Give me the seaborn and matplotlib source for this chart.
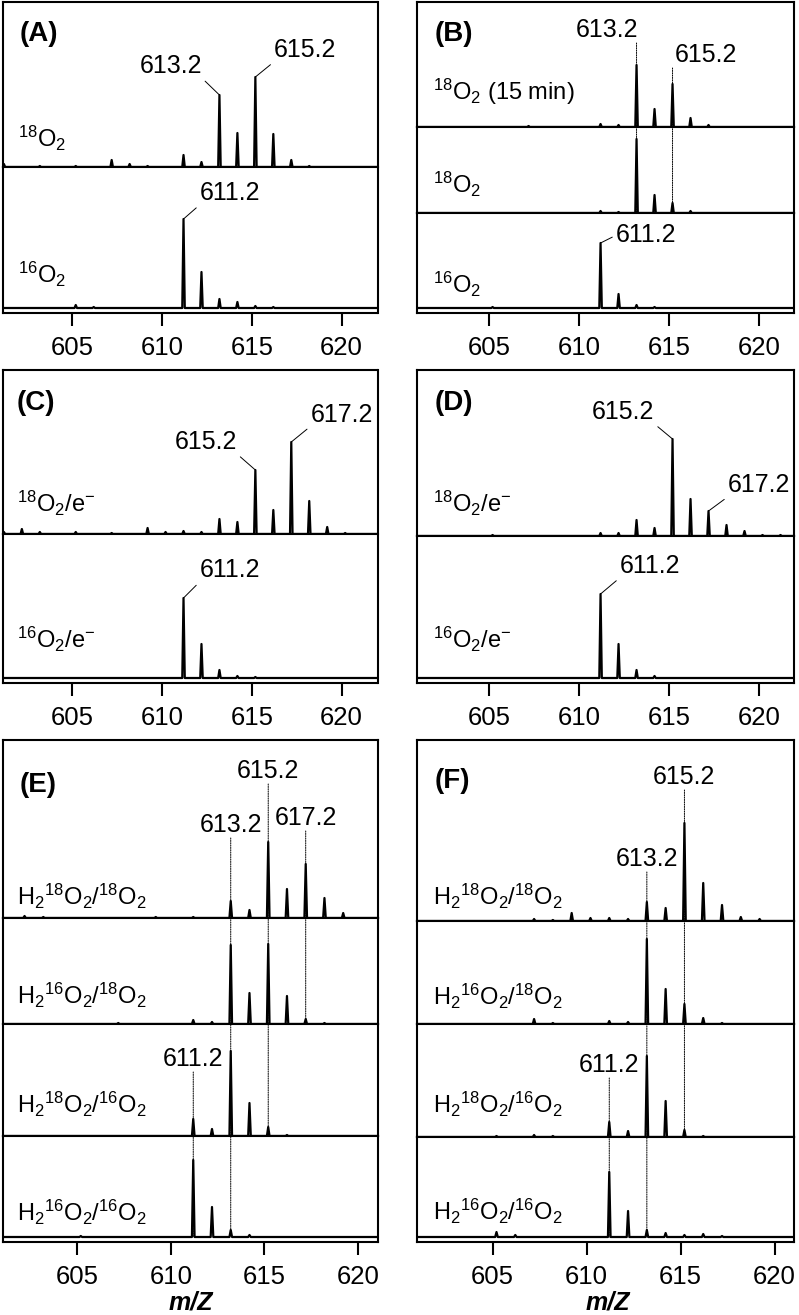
import numpy as np
import pandas as pd
import seaborn as sns
import matplotlib.pyplot as plt
from matplotlib.patches import ConnectionPatch

# peak positions (m/z) and heights (arbitrary units)
# (A)
a_18_mz = [601.2, 603.2, 605.2, 607.2, 608.2, 609.2, 611.2, 612.2, 613.2, 614.2, 615.2, 616.2, 617.2, 618.2]
a_18_int = [3, 1, 1, 7, 3, 1, 12, 5, 72, 34, 90, 33, 7, 1]
a_16_mz = [605.2, 606.2, 611.2, 612.2, 613.2, 614.2, 615.2, 616.2]
a_16_int = [3, 1, 89, 36, 9, 6, 2, 1]
# (B)
b_18t_mz = [607.2, 611.2, 612.2, 613.2, 614.2, 615.2, 616.2, 617.2]
b_18t_int = [1, 3, 2, 62, 18, 43, 9, 2]
b_18_mz = [611.2, 612.2, 613.2, 614.2, 615.2, 616.2]
b_18_int = [2, 1, 74, 18, 10, 2]
b_16_mz = [605.2, 611.2, 612.2, 613.2, 614.2]
b_16_int = [1, 65, 14, 3, 1]
# (C)
c_18_mz = [601.2, 602.2, 603.2, 605.2, 607.2, 609.2, 610.2, 611.2, 612.2,
           613.2, 614.2, 615.2, 616.2, 617.2, 618.2, 619.2, 620.2]
c_18_int = [2, 5, 2, 2, 1, 6, 2, 3, 2, 15, 12, 64, 24, 92, 33, 7, 1]
c_16_mz = [611.2, 612.2, 613.2, 614.2, 615.2]
c_16_int = [80, 34, 8, 2, 1]
# (D)
d_18_mz = [605.2, 611.2, 612.2, 613.2, 614.2, 615.2, 616.2, 617.2, 618.2, 619.2, 620.2, 621.2]
d_18_int = [1, 3, 3, 16, 8, 97, 37, 25, 11, 5, 1, 1]
d_16_mz = [611.2, 612.2, 613.2, 614.2]
d_16_int = [84, 34, 8, 2]
# (E)
e_1818_mz = [602.2, 603.2, 609.2, 611.2, 613.2, 614.2, 615.2, 616.2, 617.2, 618.2, 619.2]
e_1818_int = [2, 1, 1, 1, 17, 8, 76, 29, 54, 20, 5]
e_1618_mz = [607.2, 611.2, 612.2, 613.2, 614.2, 615.2, 616.2, 617.2, 618.2]
e_1618_int = [1, 4, 2, 79, 31, 80, 28, 5, 1]
e_1816_mz = [611.2, 612.2, 613.2, 614.2, 615.2, 616.2]
e_1816_int = [17, 7, 85, 33, 9, 1]
e_1616_mz = [605.2, 611.2, 612.2, 613.2, 614.2]
e_1616_int = [1, 77, 30, 7, 2]
# (F)
f_1818_mz = [607.2, 608.2, 609.2, 610.2, 611.2, 612.2, 613.2, 614.2, 615.2, 616.2, 617.2, 618.2, 619.2]
f_1818_int = [2, 1, 8, 3, 3, 2, 19, 13, 98, 38, 16, 4, 2]
f_1618_mz = [607.2, 608.2, 611.2, 612.2, 613.2, 614.2, 615.2, 616.2, 617.2]
f_1618_int = [5, 1, 3, 2, 85, 35, 20, 6, 1]
f_1816_mz = [605.2, 607.2, 608.2, 611.2, 612.2, 613.2, 614.2, 615.2, 616.2]
f_1816_int = [1, 2, 1, 15, 6, 81, 36, 7, 1]
f_1616_mz = [605.2, 606.2, 611.2, 612.2, 613.2, 614.2, 615.2, 616.2, 617.2]
f_1616_int = [5, 2, 65, 26, 7, 4, 2, 3, 1]

x_ticks = [605, 610, 615, 620]

sns.set_theme(style='white')
plt.rcParams['font.family'] = ['Liberation Sans', 'DejaVu Sans']
plt.rcParams.update({
    'mathtext.fontset': 'custom',
    'mathtext.rm': 'Liberation Sans',
    'mathtext.it': 'Liberation Sans:italic',
    'mathtext.bf': 'Liberation Sans:bold',
    'mathtext.default': 'regular',
    'text.color': 'black',
})

W, H = 799, 1315
fig = plt.figure(figsize=(W / 100, H / 100), dpi=100)
FS = 18       # peak labels
LFS = 17      # trace labels


def fx(px):
    return px / W


def fy(py):
    return 1 - py / H


def trace(mz, inten, lo, hi, w=0.07):
    xs, ys = [lo], [0]
    for m, h in sorted(zip(mz, inten)):
        xs += [m - w, m, m + w]
        ys += [0, h, 0]
    xs.append(hi)
    ys.append(0)
    return pd.DataFrame({'mz': xs, 'intensity': ys})


def make_panel(x0, x1, y0, y1, heights, spectra, xlim):
    gs = fig.add_gridspec(len(heights), 1, left=fx(x0), right=fx(x1), top=fy(y0),
                          bottom=fy(y1), hspace=0, height_ratios=heights)
    axes = []
    for i, (h, (mz, inten)) in enumerate(zip(heights, spectra)):
        ax = fig.add_subplot(gs[i])
        sns.lineplot(data=trace(mz, inten, *xlim), x='mz', y='intensity', ax=ax,
                     color='black', lw=1.6, estimator=None, sort=False)
        ax.set_xlim(xlim)
        last = i == len(heights) - 1
        ax.set_ylim((-5, h - 5) if last else (0, h))
        ax.set_yticks([])
        ax.set_xlabel('')
        ax.set_ylabel('')
        for s in ax.spines.values():
            s.set_linewidth(1.5)
            s.set_color('black')
        if last:
            ax.set_xticks(x_ticks)
            ax.tick_params(axis='x', bottom=True, direction='out', length=9.5, width=1.5,
                           pad=7, labelsize=18.5, colors='black')
        else:
            ax.set_xticks([])
        axes.append(ax)
    return axes


def leader(ax, mz, inten, peak, dx, dy, va='bottom'):
    # label with a thin leader line to the peak top; dx, dy in pixels
    h = inten[mz.index(peak)]
    ha = 'left' if dx > 0 else 'right'
    rel = (0 if dx > 0 else 1, 0 if va == 'bottom' else 0.5)
    ax.annotate(f'{peak:.1f}', xy=(peak, h), xytext=(dx * 0.72, dy * 0.72),
                textcoords='offset points', ha=ha, va=va, fontsize=FS, annotation_clip=False,
                arrowprops=dict(arrowstyle='-', color='black', lw=0.7, shrinkA=0,
                                shrinkB=0.5, relpos=rel))


def dotted(axes, i0, i1, peak, y_text, ha='center', tx=None):
    ax = axes[i0]
    ax.text(peak if tx is None else tx, y_text, f'{peak:.1f}', ha=ha, va='bottom', fontsize=FS)
    con = ConnectionPatch(xyA=(peak, y_text - 1), coordsA='data', axesA=ax,
                          xyB=(peak, 0), coordsB='data', axesB=axes[i1],
                          ls=(0, (1.2, 1.2)), lw=0.7, color='black')
    fig.add_artist(con)


# (A)
axA = make_panel(3, 377.5, 2, 313, [165, 146],
                 [(a_18_mz, a_18_int), (a_16_mz, a_16_int)], (601.15, 622.0))
leader(axA[0], a_18_mz, a_18_int, 613.2, -17.6, 17)
leader(axA[0], a_18_mz, a_18_int, 615.2, 18.4, 15)
leader(axA[1], a_16_mz, a_16_int, 611.2, 16, 14)

# (B)
axB = make_panel(417, 794, 2, 313, [125, 86, 100],
                 [(b_18t_mz, b_18t_int), (b_18_mz, b_18_int), (b_16_mz, b_16_int)],
                 (601.0, 621.95))
dotted(axB, 0, 1, 613.2, 85, ha='right', tx=613.28)
dotted(axB, 0, 1, 615.2, 60, ha='left', tx=615.32)
leader(axB[2], b_16_mz, b_16_int, 611.2, 15, 7.5, va='center')

# (C)
axC = make_panel(3, 377.5, 370, 683, [164, 149],
                 [(c_18_mz, c_18_int), (c_16_mz, c_16_int)], (601.15, 622.0))
leader(axC[0], c_18_mz, c_18_int, 615.2, -18.3, 16)
leader(axC[0], c_18_mz, c_18_int, 617.2, 19, 15.5)
leader(axC[1], c_16_mz, c_16_int, 611.2, 16, 16)

# (D)
axD = make_panel(417, 794, 370, 683, [166, 147],
                 [(d_18_mz, d_18_int), (d_16_mz, d_16_int)], (601.0, 621.95))
leader(axD[0], d_18_mz, d_18_int, 615.2, -18, 15)
leader(axD[0], d_18_mz, d_18_int, 617.2, 19, 14)
leader(axD[1], d_16_mz, d_16_int, 611.2, 19, 16)

# (E)
axE = make_panel(3, 377.5, 740, 1242, [178, 106, 112, 106],
                 [(e_1818_mz, e_1818_int), (e_1618_mz, e_1618_int),
                  (e_1816_mz, e_1816_int), (e_1616_mz, e_1616_int)], (601.05, 621.03))
dotted(axE, 0, 2, 615.2, 135)
dotted(axE, 0, 3, 613.2, 81)
dotted(axE, 0, 1, 617.2, 88)
dotted(axE, 2, 3, 611.2, 65)

# (F)
axF = make_panel(417, 794, 740, 1242, [181, 103, 113, 105],
                 [(f_1818_mz, f_1818_int), (f_1618_mz, f_1618_int),
                  (f_1816_mz, f_1816_int), (f_1616_mz, f_1616_int)], (600.97, 621.03))
dotted(axF, 0, 2, 615.2, 132)
dotted(axF, 0, 3, 613.2, 50)
dotted(axF, 2, 3, 611.2, 60)

# panel letters
for letter, x, y in [('(A)', 20, 41), ('(B)', 435, 41), ('(C)', 17, 410),
                     ('(D)', 435, 410), ('(E)', 20, 792), ('(F)', 435, 788)]:
    fig.text(fx(x), fy(y), letter, fontsize=20, fontweight='bold', va='baseline')

# trace labels
o18, o16 = r'${}^{18}O_2$', r'${}^{16}O_2$'
labels = [
    (o18, 18, 147), (o16, 18, 283),
    (o18 + ' (15 min)', 433, 100), (o18, 433, 193), (o16, 433, 293),
    (r'${}^{18}O_2/e^{-}$', 17, 512), (r'${}^{16}O_2/e^{-}$', 17, 648),
    (r'${}^{18}O_2/e^{-}$', 433, 512), (r'${}^{16}O_2/e^{-}$', 433, 648),
    (r'$H_2{}^{18}O_2/{}^{18}O_2$', 17, 905), (r'$H_2{}^{16}O_2/{}^{18}O_2$', 17, 1004),
    (r'$H_2{}^{18}O_2/{}^{16}O_2$', 17, 1113), (r'$H_2{}^{16}O_2/{}^{16}O_2$', 17, 1221),
    (r'$H_2{}^{18}O_2/{}^{18}O_2$', 433, 905), (r'$H_2{}^{16}O_2/{}^{18}O_2$', 433, 1005),
    (r'$H_2{}^{18}O_2/{}^{16}O_2$', 433, 1113), (r'$H_2{}^{16}O_2/{}^{16}O_2$', 433, 1220),
]
for txt, x, y in labels:
    fig.text(fx(x), fy(y), txt, fontsize=LFS, va='baseline')

# x axis titles
for x in (191, 608):
    fig.text(fx(x), fy(1310), 'm/Z', fontsize=18, fontweight='bold', fontstyle='italic',
             ha='center', va='baseline')

fig.savefig('out.png', dpi=100, facecolor='white')
